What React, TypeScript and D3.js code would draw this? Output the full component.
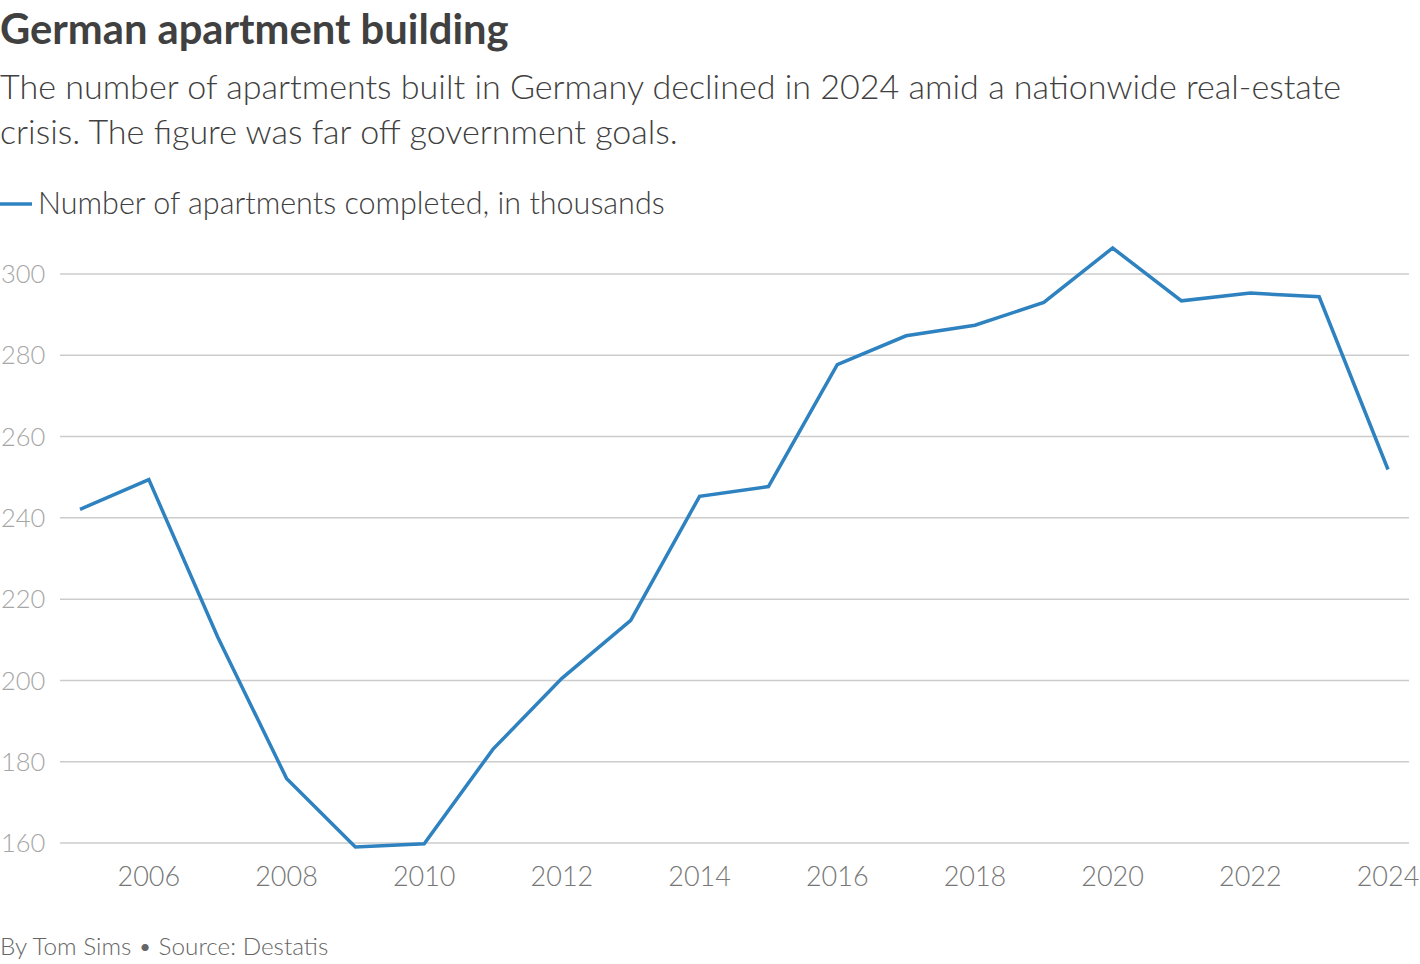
import React, { useEffect, useRef } from "react";
import * as d3 from "d3";

const years = [
  2005, 2006, 2007, 2008, 2009, 2010, 2011, 2012, 2013, 2014, 2015, 2016,
  2017, 2018, 2019, 2020, 2021, 2022, 2023, 2024,
];
const completed = [
  242.1, 249.4, 210.7, 175.9, 159.0, 159.8, 183.1, 200.5, 214.8, 245.3,
  247.7, 277.7, 284.8, 287.4, 293.0, 306.4, 293.4, 295.3, 294.4, 251.9,
];
const yTicks = [160, 180, 200, 220, 240, 260, 280, 300];
const xTicks = [2006, 2008, 2010, 2012, 2014, 2016, 2018, 2020, 2022, 2024];

const W = 1420;
const H = 964;
const FONT = "Lato, 'Noto Sans', sans-serif";

const App: React.FC = () => {
  const svgRef = useRef<SVGSVGElement>(null);

  useEffect(() => {
    document.body.style.margin = "0";
    const svg = d3.select(svgRef.current);
    svg.selectAll("*").remove();

    const x = d3.scaleLinear().domain([2005, 2024]).range([80, 1388]);
    const y = d3.scaleLinear().domain([160, 300]).range([843, 274]);

    // titles
    svg
      .append("text")
      .attr("x", 0)
      .attr("y", 44)
      .attr("font-size", 41.7)
      .attr("font-weight", 700)
      .attr("fill", "#404040")
      .text("German apartment building");

    const sub = svg
      .append("text")
      .attr("font-size", 34.1)
      .attr("font-weight", 300)
      .attr("fill", "#404040");
    sub
      .append("tspan")
      .attr("x", 0)
      .attr("y", 99)
      .text(
        "The number of apartments built in Germany declined in 2024 amid a nationwide real-estate"
      );
    sub
      .append("tspan")
      .attr("x", 0)
      .attr("y", 144)
      .text("crisis. The figure was far off government goals.");

    // legend
    svg
      .append("line")
      .attr("x1", 0)
      .attr("x2", 32)
      .attr("y1", 204)
      .attr("y2", 204)
      .attr("stroke", "#2f82c0")
      .attr("stroke-width", 3.5);
    svg
      .append("text")
      .attr("x", 38)
      .attr("y", 214)
      .attr("font-size", 30.5)
      .attr("font-weight", 300)
      .attr("fill", "#404040")
      .text("Number of apartments completed, in thousands");

    // grid + y labels
    const gy = svg.append("g");
    gy.selectAll("line")
      .data(yTicks)
      .join("line")
      .attr("x1", 60)
      .attr("x2", 1409)
      .attr("y1", (d) => y(d))
      .attr("y2", (d) => y(d))
      .attr("stroke", "#cccccc")
      .attr("stroke-width", 1.5);
    gy.selectAll("text")
      .data(yTicks)
      .join("text")
      .attr("x", 1)
      .attr("y", (d) => y(d))
      .attr("dy", "0.36em")
      .attr("font-size", 25.5)
      .attr("font-weight", 300)
      .attr("fill", "#a6a6a6")
      .text((d) => d);

    // x labels
    svg
      .append("g")
      .selectAll("text")
      .data(xTicks)
      .join("text")
      .attr("x", (d) => x(d))
      .attr("y", 886)
      .attr("text-anchor", "middle")
      .attr("font-size", 27)
      .attr("font-weight", 300)
      .attr("fill", "#777777")
      .text((d) => d);

    // line
    const line = d3
      .line<number>()
      .x((_, i) => x(years[i]))
      .y((d) => y(d));
    svg
      .append("path")
      .datum(completed)
      .attr("d", line)
      .attr("fill", "none")
      .attr("stroke", "#2f82c0")
      .attr("stroke-width", 3.5)
      .attr("stroke-linejoin", "miter");

    // footer
    svg
      .append("text")
      .attr("x", 0)
      .attr("y", 955)
      .attr("font-size", 24.3)
      .attr("font-weight", 300)
      .attr("fill", "#666666")
      .text("By Tom Sims \u2022 Source: Destatis");
  }, []);

  return (
    <svg
      ref={svgRef}
      width={W}
      height={H}
      style={{ display: "block", fontFamily: FONT, background: "#fff" }}
    />
  );
};

export default App;
